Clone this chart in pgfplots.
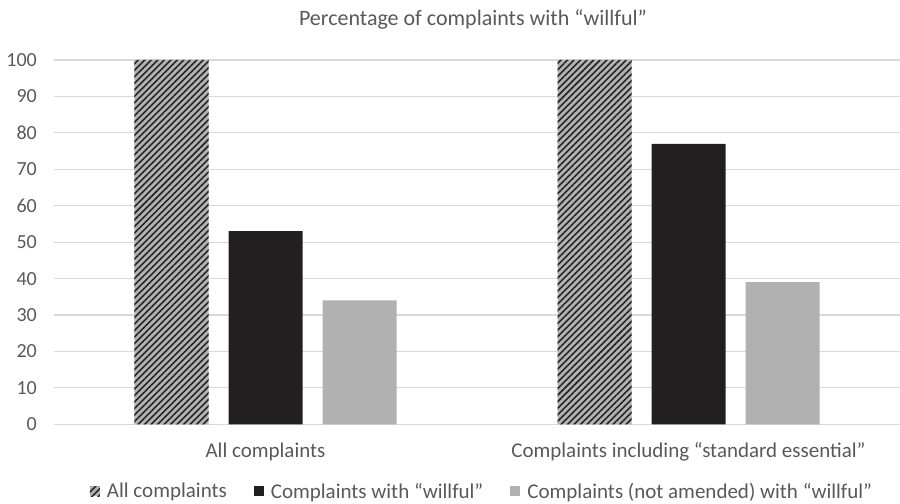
\documentclass[border=0pt]{standalone}
\usepackage{fontspec}
\setmainfont{Carlito}
\usepackage{pgfplots}
\pgfplotsset{compat=1.18}
\usetikzlibrary{patterns.meta}

\definecolor{txt}{HTML}{595959}
\definecolor{gridc}{HTML}{D9D9D9}
\definecolor{barblack}{HTML}{231F20}
\definecolor{bargray}{HTML}{B1B1B1}
\definecolor{hatchbg}{HTML}{B3B3B3}
\definecolor{hatchline}{HTML}{262626}

\tikzset{
  hatched/.style={preaction={fill=hatchbg},
    pattern={Lines[angle=45,distance=4.6bp,line width=1.6bp]},
    pattern color=hatchline},
}
\newcommand{\lblfont}{\fontsize{21bp}{25bp}\selectfont}
\newcommand{\numfont}{\fontsize{20bp}{24bp}\selectfont}
\newcommand{\ttlfont}{\fontsize{22bp}{26bp}\selectfont}

\begin{document}
\begin{tikzpicture}
\useasboundingbox (-54bp,-79.7bp) rectangle (846bp,424.3bp);
\begin{axis}[
  at={(0,0)}, anchor=south west,
  scale only axis,
  width=846bp, height=364.3bp,
  ybar=20bp, bar width=74bp,
  xmin=-0.5, xmax=1.5,
  ymin=0, ymax=100,
  ytick={0,10,...,100},
  xtick={0,1},
  xticklabels={All complaints, Complaints including “standard essential”},
  ymajorgrids,
  grid style={gridc, line width=1.1bp},
  axis line style={draw=none},
  tick style={draw=none},
  /pgf/number format/assume math mode=true,
  tick label style={text=txt},
  yticklabel style={font=\numfont, anchor=east, inner sep=0pt, xshift=-17bp},
  xticklabel style={font=\lblfont, anchor=base, inner sep=0pt, yshift=-28.7bp},
  title={Percentage of complaints with “willful”},
  title style={font=\ttlfont, text=txt, at={(0.5,1)}, anchor=base, yshift=28.5bp, xshift=-4bp, inner sep=0pt},
  legend image code/.code={\fill[#1] (0bp,-5bp) rectangle (10bp,5bp);},
  legend style={at={(0.506,-0.184)}, anchor=center, draw=none, fill=none,
    font=\lblfont, text=txt, legend columns=-1,
    /tikz/every odd column/.append style={column sep=5bp},
    /tikz/every even column/.append style={column sep=25bp}},
  clip=false,
]
\addplot[hatched, draw=none] coordinates {(0,100) (1,100)};
\addplot[fill=barblack, draw=none] coordinates {(0,53) (1,77)};
\addplot[fill=bargray, draw=none] coordinates {(0,34) (1,39)};
\legend{All complaints, Complaints with “willful”, Complaints (not amended) with “willful”}
\end{axis}
\end{tikzpicture}
\end{document}
